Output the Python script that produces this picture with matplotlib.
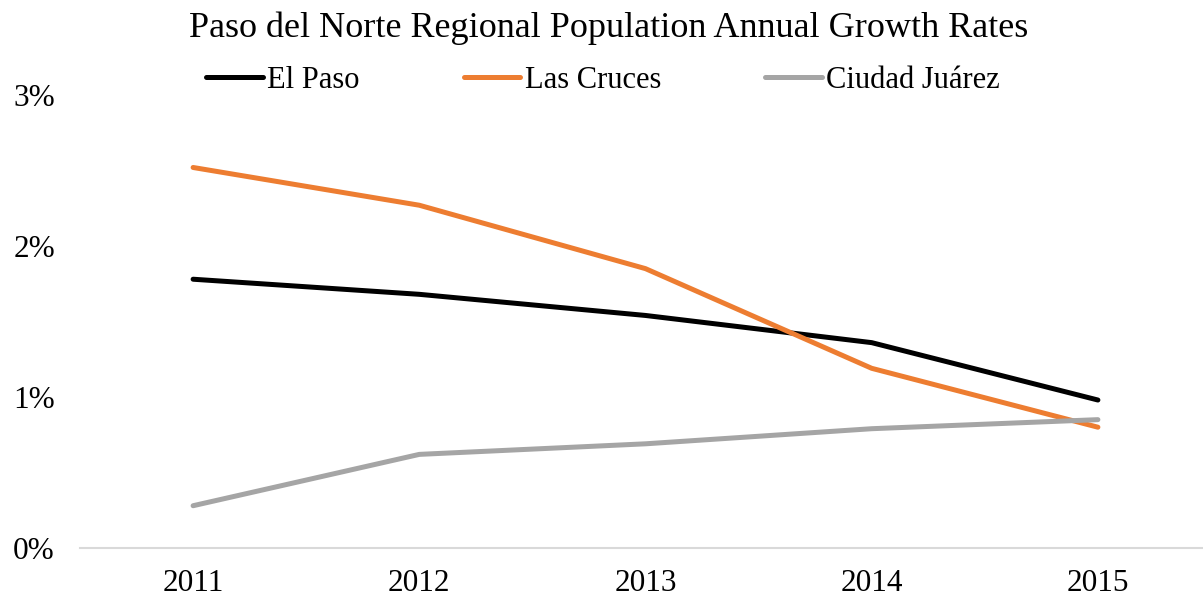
import numpy as np
import matplotlib.pyplot as plt
from matplotlib.ticker import FuncFormatter

plt.rcParams['font.family'] = ['Liberation Serif', 'DejaVu Serif']

# data (growth rate, %)
years = ['2011', '2012', '2013', '2014', '2015']
el_paso = [1.78, 1.68, 1.54, 1.36, 0.98]
las_cruces = [2.52, 2.27, 1.85, 1.19, 0.80]
ciudad_juarez = [0.28, 0.62, 0.69, 0.79, 0.85]

series = [('El Paso', el_paso, '#000000'),
          ('Las Cruces', las_cruces, '#ED7D31'),
          ('Ciudad Juárez', ciudad_juarez, '#A5A5A5')]

fig = plt.figure(figsize=(12.03, 6.02), dpi=100)
ax = fig.add_axes([80 / 1203, 54 / 602, 1131 / 1203, 453 / 602])

x = np.arange(len(years))
for name, vals, col in series:
    ax.plot(x, vals, color=col, lw=3.6, label=name, solid_capstyle='round')

ax.set_xlim(-0.5, 4.5)
ax.set_ylim(0, 3)
ax.set_xticks(x)
ax.set_xticklabels(years)
ax.set_yticks([0, 1, 2, 3])
ax.yaxis.set_major_formatter(FuncFormatter(lambda v, p: f'{v:.0f}%'))

# only the zero baseline is drawn
for side in ['top', 'right', 'left']:
    ax.spines[side].set_visible(False)
ax.spines['bottom'].set_color('#D9D9D9')
ax.spines['bottom'].set_linewidth(1.5)
ax.tick_params(axis='both', length=0, labelsize=22.5, colors='#000000')
ax.tick_params(axis='x', pad=15)
ax.tick_params(axis='y', pad=18)

fig.text(0.506, 1 - 28 / 602, 'Paso del Norte Regional Population Annual Growth Rates',
         ha='center', va='center', fontsize=26)

fig.legend(loc='center', bbox_to_anchor=(603 / 1203, 1 - 80 / 602), ncol=3,
           frameon=False, fontsize=22, handlelength=1.85, handletextpad=0.15,
           columnspacing=3.4)

fig.savefig('out.png', dpi=100)
